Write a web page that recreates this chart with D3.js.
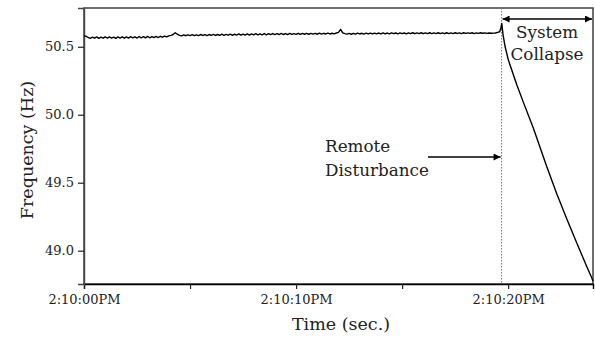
<!DOCTYPE html>
<html>
<head>
<meta charset="utf-8">
<script src="https://cdn.jsdelivr.net/npm/d3@7"></script>
<style>
  body { margin: 0; background: #fff; }
  text { font-family: "DejaVu Serif", "Liberation Serif", serif; }
</style>
</head>
<body>
<svg id="chart"></svg>
<script>
// sampled every 0.1 s from 2:10:00PM up to 19.5 s
const sampleStep = 0.1;
const baseFreq = [
  50.580, 50.577, 50.568, 50.562, 50.571, 50.563, 50.572, 50.562, 50.570, 50.563,
  50.573, 50.564, 50.572, 50.563, 50.571, 50.562, 50.572, 50.564, 50.573, 50.563,
  50.572, 50.564, 50.574, 50.565, 50.573, 50.564, 50.575, 50.566, 50.574, 50.565,
  50.576, 50.566, 50.575, 50.567, 50.576, 50.568, 50.577, 50.570, 50.578, 50.572,
  50.580, 50.584, 50.590,
  50.603, 50.592,
  50.584, 50.580, 50.587, 50.581, 50.588, 50.582, 50.589, 50.581, 50.588, 50.582,
  50.590, 50.583, 50.589, 50.582, 50.590, 50.584, 50.591, 50.583, 50.590, 50.584,
  50.592, 50.584, 50.591, 50.585, 50.593, 50.584, 50.592, 50.586, 50.594, 50.585,
  50.593, 50.586, 50.595, 50.586, 50.594, 50.587, 50.596, 50.587, 50.595, 50.588,
  50.597, 50.588, 50.596, 50.589, 50.597, 50.589, 50.596, 50.590, 50.598, 50.590,
  50.597, 50.590, 50.598, 50.591, 50.597, 50.591, 50.599, 50.591, 50.598, 50.592,
  50.599, 50.592, 50.598, 50.593, 50.599, 50.592, 50.600, 50.593, 50.599, 50.594,
  50.600, 50.594, 50.599, 50.595, 50.601, 50.606,
  50.628, 50.602,
  50.597, 50.593, 50.598, 50.592, 50.599, 50.593, 50.600, 50.594, 50.599, 50.593,
  50.600, 50.594, 50.601, 50.594, 50.600, 50.595, 50.601, 50.594, 50.602, 50.595,
  50.601, 50.594, 50.602, 50.596, 50.601, 50.595, 50.602, 50.596, 50.601, 50.595,
  50.602, 50.596, 50.603, 50.596, 50.602, 50.597, 50.603, 50.596, 50.602, 50.597,
  50.603, 50.596, 50.602, 50.597, 50.603, 50.597, 50.602, 50.596, 50.603, 50.597,
  50.602, 50.597, 50.603, 50.598, 50.602, 50.597, 50.603, 50.598, 50.602, 50.598,
  50.603, 50.597, 50.602, 50.598, 50.603, 50.599, 50.602, 50.598, 50.601, 50.599,
  50.600, 50.601, 50.606
];

// from the disturbance to the end of the record (seconds, Hz)
const collapseTime = [19.6, 19.66, 19.70, 19.76, 19.86, 20.01, 20.41, 20.75, 21.19, 21.83, 22.30, 22.77, 23.24, 23.71, 23.95, 24.0];
const collapseFreq = [50.610, 50.640, 50.672, 50.586, 50.498, 50.402, 50.218, 50.078, 49.901, 49.614, 49.415, 49.231, 49.055, 48.882, 48.797, 48.775];

const disturbanceTime = 19.69;
const xTickValues = [0, 5, 10, 15, 20];
const xTickLabels = ["2:10:00PM", "", "2:10:10PM", "", "2:10:20PM"];
const yTickValues = [49.0, 49.5, 50.0, 50.5];

const width = 595, height = 339;
const margin = {top: 8, right: 2, bottom: 55, left: 84};

const data = baseFreq.map((f, i) => ({t: i * sampleStep, f: f}))
  .concat(collapseTime.map((t, i) => ({t: t, f: collapseFreq[i]})));

const svg = d3.select("#chart")
  .attr("width", width)
  .attr("height", height);

const x = d3.scaleLinear()
  .domain([0, 24])
  .range([margin.left, width - margin.right]);

const y = d3.scaleLinear()
  .domain([48.755, 50.785])
  .range([height - margin.bottom, margin.top]);

// frame
svg.append("rect")
  .attr("x", margin.left)
  .attr("y", margin.top)
  .attr("width", width - margin.right - margin.left)
  .attr("height", height - margin.bottom - margin.top)
  .attr("fill", "none")
  .attr("stroke", "#333")
  .attr("stroke-width", 1.4);

const xAxis = svg.append("g")
  .attr("transform", `translate(0,${height - margin.bottom})`)
  .call(d3.axisBottom(x).tickValues(xTickValues).tickSize(5).tickPadding(6)
    .tickFormat((d, i) => xTickLabels[i]));

const yAxis = svg.append("g")
  .attr("transform", `translate(${margin.left},0)`)
  .call(d3.axisLeft(y).tickValues(yTickValues).tickSize(6).tickPadding(4)
    .tickFormat(d3.format(".1f")));

[xAxis, yAxis].forEach(g => {
  g.select(".domain").attr("stroke", "#000").attr("stroke-width", 1.4);
  g.selectAll(".tick line").attr("stroke", "#222").attr("stroke-width", 1.2);
  g.selectAll(".tick text").attr("font-size", 13).attr("fill", "#222")
    .style("font-family", "DejaVu Serif, serif");
});
yAxis.select(".domain").attr("stroke", "#444");

// disturbance marker
svg.append("line")
  .attr("x1", x(disturbanceTime)).attr("x2", x(disturbanceTime))
  .attr("y1", margin.top).attr("y2", height - margin.bottom)
  .attr("stroke", "#777")
  .attr("stroke-width", 1)
  .attr("stroke-dasharray", "1.5,1.5");

svg.append("path")
  .datum(data)
  .attr("fill", "none")
  .attr("stroke", "#000")
  .attr("stroke-width", 1.4)
  .attr("stroke-linejoin", "round")
  .attr("d", d3.line().x(d => x(d.t)).y(d => y(d.f)));

// arrows
const defs = svg.append("defs");
defs.append("marker")
  .attr("id", "head")
  .attr("viewBox", "0 0 10 10")
  .attr("refX", 10).attr("refY", 5)
  .attr("markerWidth", 11).attr("markerHeight", 7)
  .attr("markerUnits", "userSpaceOnUse")
  .attr("orient", "auto-start-reverse")
  .append("path")
  .attr("d", "M0,0 L10,5 L0,10 Z")
  .attr("fill", "#000");

svg.append("line")
  .attr("x1", x(disturbanceTime) + 1).attr("x2", x(24) - 1)
  .attr("y1", 19).attr("y2", 19)
  .attr("stroke", "#000").attr("stroke-width", 1.3)
  .attr("marker-start", "url(#head)")
  .attr("marker-end", "url(#head)");

svg.append("line")
  .attr("x1", 428).attr("x2", x(disturbanceTime) - 1)
  .attr("y1", 157).attr("y2", 157)
  .attr("stroke", "#000").attr("stroke-width", 1.3)
  .attr("marker-end", "url(#head)");

const annot = svg.append("g").attr("font-size", 16.8).attr("fill", "#222");
annot.append("text").attr("x", 547).attr("y", 38).attr("text-anchor", "middle").text("System");
annot.append("text").attr("x", 547).attr("y", 60).attr("text-anchor", "middle").text("Collapse");
annot.append("text").attr("x", 325).attr("y", 152).text("Remote");
annot.append("text").attr("x", 325).attr("y", 176).text("Disturbance");

// axis titles
svg.append("text")
  .attr("x", 341)
  .attr("y", 330)
  .attr("text-anchor", "middle")
  .attr("font-size", 17.5).attr("fill", "#222")
  .text("Time (sec.)");

svg.append("text")
  .attr("transform", `translate(33,150) rotate(-90)`)
  .attr("text-anchor", "middle")
  .attr("font-size", 17.5).attr("fill", "#222")
  .text("Frequency (Hz)");
</script>
</body>
</html>
